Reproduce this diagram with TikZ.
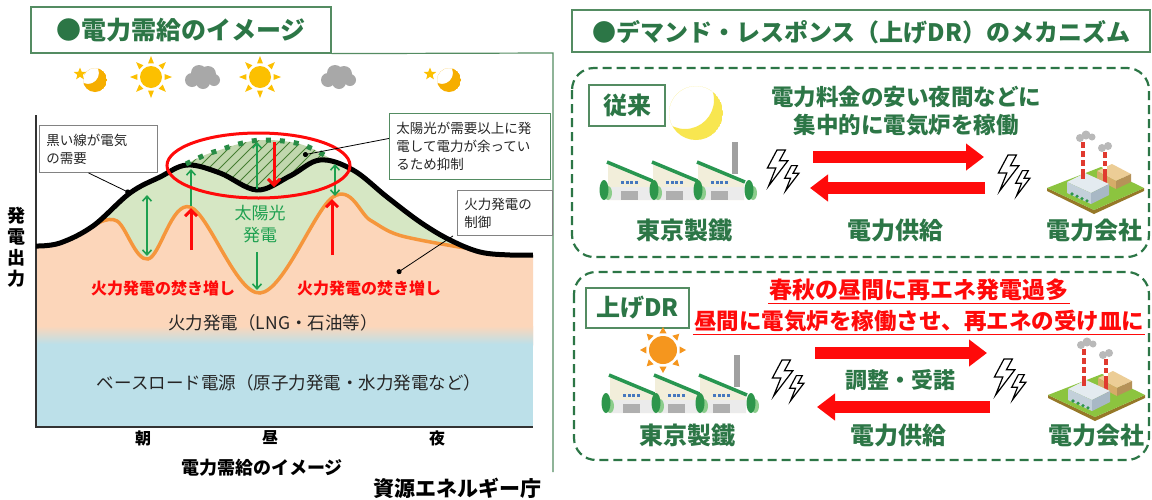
\documentclass[tikz,border=0pt]{standalone}
\usepackage{fontspec}
\setmainfont{Noto Sans CJK JP}
\usetikzlibrary{arrows.meta,shapes.geometric}

\definecolor{dkgreen}{RGB}{44,118,70}
\definecolor{frgreen}{RGB}{84,140,98}
\definecolor{solarfill}{RGB}{214,231,196}
\definecolor{thermfill}{RGB}{252,214,186}
\definecolor{basefill}{RGB}{188,224,233}
\definecolor{thermcurve}{RGB}{245,150,60}
\definecolor{arrgreen}{RGB}{30,160,80}
\definecolor{capgreen}{RGB}{40,140,70}
\definecolor{hatchgreen}{RGB}{70,125,50}
\definecolor{sungold}{RGB}{252,192,0}
\definecolor{moongold}{RGB}{246,174,0}
\definecolor{moonpale}{RGB}{248,230,80}
\definecolor{sunorange}{RGB}{245,150,30}
\definecolor{cloudgray}{RGB}{168,168,168}
\definecolor{alertred}{RGB}{255,10,10}
\definecolor{calloutgray}{RGB}{130,130,130}
\definecolor{cream}{RGB}{242,238,218}
\definecolor{roofgreen}{RGB}{40,150,80}
\definecolor{winblue}{RGB}{70,120,190}
\definecolor{doorgray}{RGB}{175,175,175}
\definecolor{chimgray}{RGB}{160,160,160}
\definecolor{treedark}{RGB}{45,150,75}
\definecolor{treelight}{RGB}{140,205,140}
\definecolor{plategreen}{RGB}{140,196,63}
\definecolor{plateedge}{RGB}{150,120,40}
\definecolor{bldtop}{RGB}{228,235,240}
\definecolor{bldleft}{RGB}{195,208,218}
\definecolor{bldright}{RGB}{168,184,197}
\definecolor{tanlight}{RGB}{236,205,150}
\definecolor{tandark}{RGB}{214,172,104}
\definecolor{chimred}{RGB}{224,58,47}
\definecolor{smokegray}{RGB}{185,185,185}

\newcommand\jpsize[1]{\fontsize{#1}{#1}\selectfont}

\tikzset{
  titlebox/.style={draw=frgreen, line width=1.2pt, inner sep=0pt, font=\bfseries\jpsize{25}, text=dkgreen},
  callout/.style={draw=calloutgray, line width=0.9pt, fill=white, align=left, anchor=north west,
    inner xsep=7pt, inner ysep=0pt, font=\fontsize{13.5}{18}\selectfont, text=black!85},
  dashpanel/.style={draw=dkgreen, line width=2.2pt, dash pattern=on 9pt off 5pt, rounded corners=22pt},
  tagbox/.style={draw=frgreen, line width=1.2pt, fill=white, font=\bfseries\jpsize{24}, text=dkgreen, inner sep=0pt},
  greenlabel/.style={font=\bfseries\jpsize{24}, text=dkgreen},
  boostlabel/.style={font=\bfseries\jpsize{16}, text=alertred},
  chartlabel/.style={font=\jpsize{17.5}, text=black!85},
  bigarrow/.style={alertred, line width=12pt, -{Triangle[length=18pt,width=26pt]}},
  solararrow/.style={arrgreen, line width=1.6pt, -{Straight Barb[length=5pt,width=9pt]}},
  solardouble/.style={arrgreen, line width=1.6pt, {Straight Barb[length=5pt,width=9pt]}-{Straight Barb[length=5pt,width=9pt]}},
  boostarrow/.style={alertred, line width=3pt, -{Straight Barb[length=6pt,width=12pt]}},
  pointer/.style={black, line width=0.8pt, -{Circle[length=5pt]}},
  boltpair/.pic={
    \draw[fill=white, line width=1.2pt, line join=miter]
      (0,0) -- (-8,15) -- (-1,15) -- (-7,30) -- (9,9) -- (2,9) -- (7,0) -- cycle;
    \draw[fill=white, line width=1.2pt, line join=miter, shift={(12,13)}, scale=0.7]
      (0,0) -- (-8,15) -- (-1,15) -- (-7,30) -- (9,9) -- (2,9) -- (7,0) -- cycle;
  },
  factory/.pic={
    \fill[chimgray] (124,-58) rectangle (130,-26);
    \foreach \b in {0,45,90}{
      \fill[cream] (\b,0) -- (\b,-37) -- (\b+46,-18) -- (\b+46,0) -- cycle;
      \fill[black!8] (\b,0) rectangle (\b+46,-13);
      \fill[doorgray] (\b+13,-9) rectangle (\b+30,0);
      \foreach \w in {0,1,2,3} \fill[winblue] (\b+13+\w*4.5,-19) rectangle ++(3,3);
      \draw[roofgreen, line width=3.5pt] (\b-1,-38) -- (\b+47,-18);
    }
    \foreach \t in {-4,46,90,141}{
      \fill[treelight] (\t+4,-7) ellipse (4pt and 7pt);
      \fill[treedark] (\t,-10) ellipse (4.5pt and 10pt);
    }
  },
  powerplant/.pic={
    \fill[plateedge] (-48,0) -- (-1,22) -- (49,0) -- (49,3) -- (-1,26) -- (-48,3) -- cycle;
    \fill[plategreen] (-48,0) -- (6,-21) -- (49,0) -- (-1,22) -- cycle;
    \fill[tanlight] (2,-17) -- (17,-24) -- (36,-14) -- (21,-7) -- cycle;
    \fill[tandark] (2,-17) -- (21,-7) -- (21,1) -- (2,-9) -- cycle;
    \fill[tandark!85!black] (21,-7) -- (36,-14) -- (36,-6) -- (21,1) -- cycle;
    \fill[chimred] (8,-36) rectangle (12,-2);
    \fill[white] (8,-30) rectangle (12,-27);
    \fill[white] (8,-22) rectangle (12,-19);
    \fill[bldtop] (-28,-6) -- (-10,-15) -- (14,-4) -- (-4,5) -- cycle;
    \fill[bldleft] (-28,-6) -- (-4,5) -- (-4,16) -- (-28,5) -- cycle;
    \fill[bldright] (-4,5) -- (14,-4) -- (14,7) -- (-4,16) -- cycle;
    \fill[chimred] (-14,-46) rectangle (-10,-9);
    \fill[white] (-14,-40) rectangle (-10,-37);
    \fill[white] (-14,-31) rectangle (-10,-28);
    \fill[white] (-14,-22) rectangle (-10,-19);
    \fill[smokegray] (-15,-50) circle (4pt) (-9,-53) circle (4.5pt) (-3,-51) circle (3.5pt);
    \fill[smokegray] (7,-40) circle (4pt) (13,-42) circle (4pt);
    \foreach \i in {0,1,2,3} \fill[treedark] (-23+\i*5,{6+\i*2.3}) circle (1.8pt);
  }
}

% chart curves
\newcommand\curveDemand{plot[smooth,tension=0.6] coordinates {(36,246) (60,243) (93,226) (130,193) (160,177) (187,165) (220,173) (257,190) (290,176) (320,160) (353,170) (387,197) (420,222) (450,240) (480,252) (510,255) (533,255)}}
\newcommand\curveThermal{plot[smooth,tension=0.6] coordinates {(93,226) (117,221) (148,259) (190,207) (260,293) (333,197) (370,220) (393,233) (420,240) (465,248)}}
\newcommand\curveSolarCap{plot[smooth,tension=0.6] coordinates {(186,164) (205,155) (220,150) (235,145) (252,141) (267,140) (283,141) (300,144) (315,150) (331,159)}}

\newcommand\sunglyph[5]{% x, y, body radius, ray tip radius, colour
  \fill[#5] (#1,#2) circle (#3pt);
  \foreach \a in {0,45,...,315}
    \fill[#5] ([shift={(\a:#4pt)}]#1,#2) -- ([shift={(\a+12:#3pt+3pt)}]#1,#2) -- ([shift={(\a-12:#3pt+3pt)}]#1,#2) -- cycle;
}

\begin{document}
\begin{tikzpicture}[x=1pt,y=-1pt]
\useasboundingbox (0,0) rectangle (1152,499);
\fill[white] (0,0) rectangle (1152,499);

% ---------------- left panel: supply and demand ----------------
\node[titlebox, minimum width=300pt, minimum height=46pt] (ltitle) at (181,30) {●電力需給のイメージ};
\draw[frgreen, line width=1.2pt] (ltitle.south east) -- (553,53) -- (553,472);

% weather row
\begin{scope}
  \clip (95,80) circle (12pt);
  \fill[moongold, even odd rule] (95,80) circle (12pt) (88,73) circle (11pt);
\end{scope}
\node[star, star points=5, star point ratio=2.3, fill=sungold, minimum size=13pt, inner sep=0pt] (star1) at (80,74) {};
\sunglyph{151}{77}{11}{21}{sungold}
\fill[cloudgray] (192,80) circle (7pt) (199,73) circle (8pt) (208,74) circle (8pt) (214,80) circle (6pt) (203,82) circle (7pt);
\sunglyph{260}{77}{11}{21}{sungold}
\fill[cloudgray] (328,80) circle (7pt) (335,73) circle (8pt) (344,74) circle (8pt) (350,80) circle (6pt) (339,82) circle (7pt);
\begin{scope}
  \clip (449,80) circle (12pt);
  \fill[moongold, even odd rule] (449,80) circle (12pt) (442,73) circle (11pt);
\end{scope}
\node[star, star points=5, star point ratio=2.3, fill=sungold, minimum size=13pt, inner sep=0pt] (star2) at (430,74) {};

% stacked areas
\fill[thermfill] \curveDemand -- (533,346) -- (36,346) -- cycle;
\fill[basefill] (36,342) rectangle (533,427);
\shade[top color=thermfill, bottom color=basefill] (36,326) rectangle (533,344);
\begin{scope}
  \clip \curveThermal -- (465,100) -- (93,100) -- cycle;
  \fill[solarfill] \curveDemand -- (533,430) -- (36,430) -- cycle;
\end{scope}
% curtailed solar (hatched)
\begin{scope}
  \clip \curveSolarCap -- (331,300) -- (186,300) -- cycle;
  \clip \curveDemand -- (533,100) -- (36,100) -- cycle;
  \fill[solarfill!85!hatchgreen] (180,130) rectangle (340,200);
  \foreach \k in {0,...,18} \draw[hatchgreen, line width=0.8pt] ({150+\k*11},205) -- ++(70,-70);
\end{scope}

% axes
\draw[black!80, line width=1.4pt] (36,115) -- (36,427) -- (533,427);

% curves
\draw[thermcurve, line width=3.5pt] \curveThermal;
\draw[black, line width=5pt] \curveDemand;
\draw[capgreen, line width=5pt, dash pattern=on 5pt off 9pt] \curveSolarCap;

% solar / thermal arrows
\coordinate (g1a) at (147,195); \coordinate (g1b) at (147,256);
\coordinate (g2a) at (191,206); \coordinate (g2b) at (191,169);
\coordinate (g3a) at (257,189); \coordinate (g3b) at (257,142);
\coordinate (g4a) at (257,252); \coordinate (g4b) at (257,290);
\coordinate (g5a) at (335,164); \coordinate (g5b) at (335,196);
\draw[solardouble] (g1a) -- (g1b);
\draw[solararrow] (g2a) -- (g2b);
\draw[solararrow] (g3a) -- (g3b);
\draw[solararrow] (g4a) -- (g4b);
\draw[solardouble] (g5a) -- (g5b);
\coordinate (r1a) at (191,250); \coordinate (r1b) at (191,208);
\coordinate (r2a) at (274,142); \coordinate (r2b) at (274,187);
\coordinate (r3a) at (332,255); \coordinate (r3b) at (332,199);
\draw[boostarrow] (r1a) -- (r1b);
\draw[boostarrow] (r2a) -- (r2b);
\draw[boostarrow] (r3a) -- (r3b);

% curtailment ellipse
\draw[alertred, line width=3pt] (258.5,165.5) ellipse [x radius=91.5pt, y radius=32.5pt];

% chart texts
\node[font=\fontsize{17}{22}\selectfont, text=arrgreen, align=center] (solar) at (260,224) {太陽光\\発電};
\node[boostlabel] (boostL) at (163,288) {火力発電の焚き増し};
\node[boostlabel] (boostR) at (369,288) {火力発電の焚き増し};
\node[chartlabel] (thermal) at (273,323) {火力発電（LNG・石油等）};
\node[chartlabel] (base) at (289,383) {ベースロード電源（原子力発電・水力発電など）};
\node[font=\bfseries\fontsize{18}{21}\selectfont, align=center] (yaxis) at (16,247) {発\\電\\出\\力};
\node[font=\bfseries\jpsize{16}] (morning) at (143,438) {朝};
\node[font=\bfseries\jpsize{16}] (noon) at (270,438) {昼};
\node[font=\bfseries\jpsize{16}] (night) at (437,438) {夜};
\node[font=\bfseries\jpsize{18}] (caption) at (262,468) {電力需給のイメージ};
\node[font=\bfseries\jpsize{21}] (source) at (457,488) {資源エネルギー庁};

% callouts
\node[callout, minimum width=118pt, minimum height=47pt, text width=104pt] (c1) at (39,125) {黒い線が電気\\の需要};
\node[callout, draw=frgreen, minimum width=161pt, minimum height=66pt, text width=147pt] (c2) at (389,113) {太陽光が需要以上に発\\電して電力が余ってい\\るため抑制};
\node[callout, minimum width=95pt, minimum height=45pt, text width=81pt] (c3) at (457,190) {火力発電の\\制御};
\coordinate (p1) at (130,193);
\coordinate (p2) at (303,155);
\coordinate (p3) at (397,273);
\draw[pointer] ([xshift=-10pt]c1.south) -- (p1);
\draw[pointer] ([yshift=8pt]c2.west) -- (p2);
\draw[pointer] ([xshift=-4pt]c3.south west) -- (p3);

% ---------------- right panel: upward demand response ----------------
\draw[frgreen, line width=1.2pt] (572,10) rectangle (1150,52);
\node[font=\bfseries\jpsize{24}, text=dkgreen] (rtitle) at (861,32) {●デマンド・レスポンス（上げDR）のメカニズム};

\draw[dashpanel] (572,68) rectangle (1149,257);
\draw[dashpanel] (574,272) rectangle (1149,460);

% conventional operation
\node[tagbox, minimum width=76pt, minimum height=41pt] (conv) at (627,105.5) {従来};
\begin{scope}
  \clip (696,113) circle (27pt);
  \fill[moonpale, even odd rule] (696,113) circle (27pt) (685,100) circle (29pt);
\end{scope}
\node[font=\bfseries\fontsize{22.5}{28}\selectfont, text=dkgreen, align=center] (convmsg) at (906,111) {電力料金の安い夜間などに\\集中的に電気炉を稼働};
\pic at (608,200) {factory};
\pic[scale=1.2] at (777,150) {boltpair};
\pic[scale=1.2] at (1008,155) {boltpair};
\pic at (1095,188) {powerplant};
\coordinate (a1s) at (813,157); \coordinate (a1e) at (984,157);
\coordinate (a2s) at (985,188); \coordinate (a2e) at (810,188);
\draw[bigarrow] (a1s) -- (a1e);
\draw[bigarrow] (a2s) -- (a2e);
\node[greenlabel] (mill1) at (684,230) {東京製鐵};
\node[greenlabel] (supply1) at (895,230) {電力供給};
\node[greenlabel] (util1) at (1094,230) {電力会社};

% upward DR
\node[tagbox, minimum width=103pt, minimum height=40pt] (updr) at (637.5,308) {上げDR};
\sunglyph{663}{350}{14}{23}{sunorange}
\node[font=\bfseries\jpsize{23}, text=alertred, inner sep=1pt] (red1) at (919,290) {春秋の昼間に再エネ発電過多};
\node[font=\bfseries\jpsize{22.5}, text=alertred, inner sep=1pt] (red2) at (919,321) {昼間に電気炉を稼働させ、再エネの受け皿に};
\draw[alertred, line width=1.3pt] ([yshift=-1pt]red1.south west) -- ([yshift=-1pt]red1.south east);
\draw[alertred, line width=1.3pt] ([yshift=-1pt]red2.south west) -- ([yshift=-1pt]red2.south east);
\pic at (610,413) {factory};
\pic[scale=1.2] at (782,360) {boltpair};
\pic[scale=1.2] at (1004,359) {boltpair};
\pic at (1096,395) {powerplant};
\coordinate (b1s) at (815,353); \coordinate (b1e) at (987,353);
\coordinate (b2s) at (990,407); \coordinate (b2e) at (817,407);
\draw[bigarrow] (b1s) -- (b1e);
\draw[bigarrow] (b2s) -- (b2e);
\node[greenlabel, font=\bfseries\jpsize{22}] (accept) at (900,380) {調整・受諾};
\node[greenlabel] (mill2) at (687,435) {東京製鐵};
\node[greenlabel] (supply2) at (898,435) {電力供給};
\node[greenlabel] (util2) at (1096,435) {電力会社};
\end{tikzpicture}
\end{document}
